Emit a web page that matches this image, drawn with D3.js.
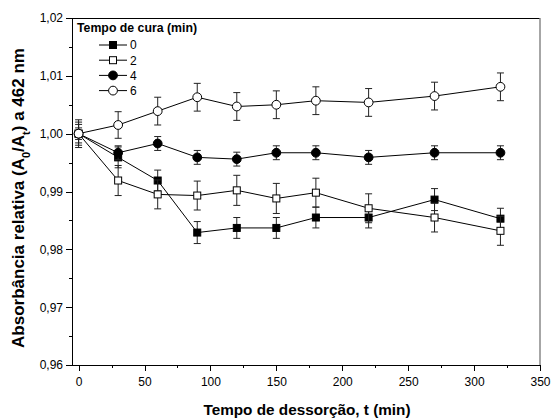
<!DOCTYPE html>
<meta charset="utf-8">
<head>
<style>
  body { margin: 0; background: #fff; }
  svg { font-family: "Liberation Sans", Arial, sans-serif; }
  .axis path, .axis line { fill: none; stroke: #000; shape-rendering: crispEdges; }
  .axis text { font-size: 12px; fill: #000; }
</style>
</head>
<body>
<script src="https://d3js.org/d3.v7.min.js"></script>
<script>

// desorption times (min)
var times = [0, 30, 60, 90, 120, 150, 180, 220, 270, 320];

// relative absorbance per curing time
var cura0 = [1.000, 0.9959, 0.9919, 0.9829, 0.9837, 0.9837, 0.9855, 0.9855, 0.9886, 0.9853];
var cura2 = [1.000, 0.9919, 0.9895, 0.9893, 0.9902, 0.9888, 0.9898, 0.9871, 0.9855, 0.9832];
var cura4 = [1.000, 0.9967, 0.9983, 0.9959, 0.9956, 0.9967, 0.9967, 0.9959, 0.9967, 0.9967];
var cura6 = [1.000, 1.0015, 1.0039, 1.0063, 1.0047, 1.0050, 1.0057, 1.0054, 1.0065, 1.0081];

// error bars (half length)
var err0 = [0.0016, 0.0018, 0.0018, 0.0019, 0.0018, 0.0018, 0.0018, 0.0018, 0.0019, 0.0018];
var err2 = [0.0020, 0.0026, 0.0025, 0.0025, 0.0026, 0.0026, 0.0025, 0.0025, 0.0025, 0.0025];
var err4 = [0.0010, 0.0012, 0.0012, 0.0012, 0.0012, 0.0012, 0.0012, 0.0012, 0.0012, 0.0012];
var err6 = [0.0024, 0.0023, 0.0024, 0.0024, 0.0024, 0.0024, 0.0024, 0.0024, 0.0024, 0.0024];

var seriesNames = ["0", "2", "4", "6"];
var xTicks = [0, 50, 100, 150, 200, 250, 300, 350];
var yTicks = [0.96, 0.97, 0.98, 0.99, 1.00, 1.01, 1.02];

var margin = {top: 18, right: 11, bottom: 53, left: 72},
    width = 551 - margin.left - margin.right,
    height = 418 - margin.top - margin.bottom;

var x = d3.scaleLinear().domain([-5, 350]).range([0, width]);
var y = d3.scaleLinear().domain([0.96, 1.02]).range([height, 0]);

var fmt = function(d) { return d3.format(".2f")(d).replace(".", ","); };

var svg = d3.select("body").append("svg")
    .attr("width", 551)
    .attr("height", 418)
  .append("g")
    .attr("transform", "translate(" + margin.left + "," + margin.top + ")");

// minor ticks
svg.append("g")
    .attr("class", "axis")
    .attr("transform", "translate(0," + height + ")")
    .call(d3.axisBottom(x).tickValues(d3.range(25, 350, 50)).tickSize(3).tickFormat(""))
    .select(".domain").remove();
svg.append("g")
    .attr("class", "axis")
    .call(d3.axisLeft(y).tickValues(d3.range(0.965, 1.02, 0.01)).tickSize(3).tickFormat(""))
    .select(".domain").remove();

// major axes
svg.append("g")
    .attr("class", "axis")
    .attr("transform", "translate(0," + height + ")")
    .call(d3.axisBottom(x).tickValues(xTicks).tickSize(6).tickSizeOuter(0).tickPadding(6));

svg.append("g")
    .attr("class", "axis")
    .call(d3.axisLeft(y).tickValues(yTicks).tickSize(6).tickSizeOuter(0).tickPadding(3).tickFormat(fmt));

// frame top + right
svg.append("line")
    .attr("x1", 0).attr("x2", width).attr("y1", 0).attr("y2", 0)
    .style("stroke", "#000").style("shape-rendering", "crispEdges");
svg.append("line")
    .attr("x1", width).attr("x2", width).attr("y1", 0).attr("y2", height)
    .style("stroke", "#888").style("stroke-width", 1.5);

var data = [
  {name: "0", vals: cura0, errs: err0, shape: "square", fill: "#000"},
  {name: "2", vals: cura2, errs: err2, shape: "square", fill: "#fff"},
  {name: "4", vals: cura4, errs: err4, shape: "circle", fill: "#000"},
  {name: "6", vals: cura6, errs: err6, shape: "circle", fill: "#fff"}
];

var line = d3.line()
    .x(function(d) { return x(d.t); })
    .y(function(d) { return y(d.v); });

function marker(g, s, cx, cy) {
  if (s.shape === "square") {
    g.append("rect")
      .attr("x", cx - 3.5).attr("y", cy - 3.5)
      .attr("width", 7).attr("height", 7)
      .style("fill", s.fill).style("stroke", "#000").style("stroke-width", 1);
  } else {
    g.append("circle")
      .attr("cx", cx).attr("cy", cy).attr("r", 4.4)
      .style("fill", s.fill).style("stroke", "#000").style("stroke-width", 1);
  }
}

data.forEach(function(s) {
  var pts = times.map(function(t, i) { return {t: t, v: s.vals[i], e: s.errs[i]}; });
  var g = svg.append("g");

  g.append("path")
      .datum(pts)
      .attr("d", line)
      .style("fill", "none")
      .style("stroke", "#000")
      .style("stroke-width", 1);

  pts.forEach(function(p) {
    var cx = x(p.t), y1 = y(p.v + p.e), y2 = y(p.v - p.e);
    g.append("line").attr("x1", cx).attr("x2", cx).attr("y1", y1).attr("y2", y2)
      .style("stroke", "#222").style("stroke-width", 1);
    g.append("line").attr("x1", cx - 3.5).attr("x2", cx + 3.5).attr("y1", y1).attr("y2", y1)
      .style("stroke", "#222").style("stroke-width", 1);
    g.append("line").attr("x1", cx - 3.5).attr("x2", cx + 3.5).attr("y1", y2).attr("y2", y2)
      .style("stroke", "#222").style("stroke-width", 1);
  });

  pts.forEach(function(p) { marker(g, s, x(p.t), y(p.v)); });
});

// legend
var leg = svg.append("g").attr("transform", "translate(5,0)");
leg.append("text")
    .attr("x", 0).attr("y", 14)
    .style("font-size", "12.3px").style("font-weight", "bold")
    .text("Tempo de cura (min)");

data.forEach(function(s, i) {
  var ly = 27 + i * 15.2;
  var row = leg.append("g");
  row.append("line")
      .attr("x1", 22).attr("x2", 50).attr("y1", ly).attr("y2", ly)
      .style("stroke", "#000");
  marker(row, s, 36, ly);
  row.append("text")
      .attr("x", 53).attr("y", ly + 4.3)
      .style("font-size", "12px")
      .text(s.name);
});

// x label
svg.append("text")
    .attr("x", 235)
    .attr("y", height + 50)
    .attr("text-anchor", "middle")
    .style("font-size", "15.3px")
    .style("font-weight", "bold")
    .text("Tempo de dessorção, t (min)");

// y label with subscripts
var yl = svg.append("text")
    .attr("transform", "translate(" + (-48) + "," + 180 + ") rotate(-90)")
    .attr("text-anchor", "middle")
    .style("font-size", "17px")
    .style("font-weight", "bold");
yl.append("tspan").text("Absorbância relativa (A");
yl.append("tspan").attr("baseline-shift", "sub").style("font-size", "11px").text("0");
yl.append("tspan").text("/A");
yl.append("tspan").attr("baseline-shift", "sub").style("font-size", "11px").text("t");
yl.append("tspan").text(") a 462 nm");

</script>
</body>
